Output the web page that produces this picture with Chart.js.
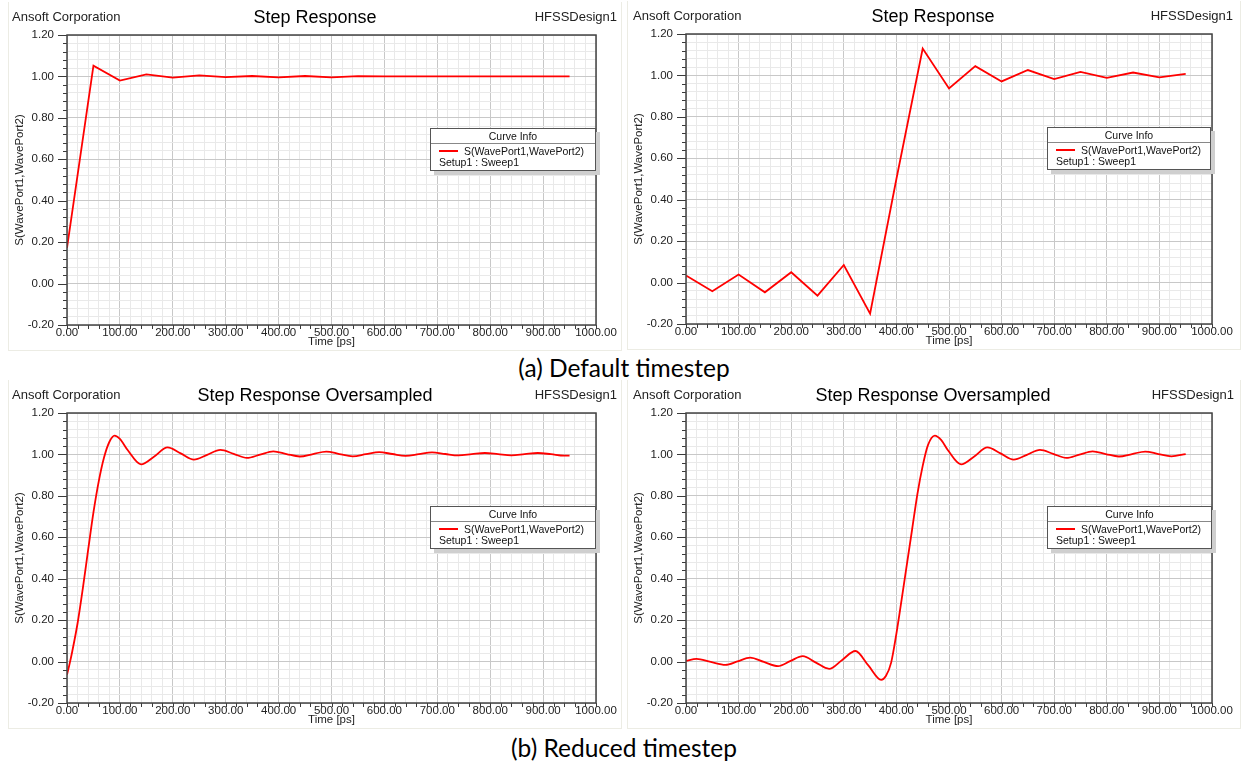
<!DOCTYPE html>
<html>
<head>
<meta charset="utf-8">
<title>Step Response</title>
<script src="https://cdn.jsdelivr.net/npm/chart.js@4.4.1/dist/chart.umd.min.js"></script>
<style>
  body { margin: 0; background: #fff; font-family: 'Liberation Sans', Arial, sans-serif; }
  #page { position: relative; width: 1244px; height: 761px; overflow: hidden; background: #fff; }
  .panel { position: absolute; width: 620px; height: 352px; }
  .panel canvas { position: absolute; left: 0; top: 0; }
  .frame { position: absolute; left: 8px; top: 2px; width: 612px; height: 348px;
           border: 1px solid #ecece4; border-top: none; }
  .corner { position: absolute; top: 9px; font-size: 13px; line-height: 15px; color: #222; white-space: nowrap; }
  .ttl { position: absolute; top: 7px; width: 400px; margin-left: -200px; text-align: center;
         font-size: 18px; line-height: 20px; color: #000; white-space: nowrap; }
  .legend { position: absolute; top: 128px; height: 41px; background: #fff; border: 1px solid #555;
            box-shadow: 4px 4px 0 #cfcfcf; font-size: 10.5px; color: #111; }
  .legend .head { height: 14px; line-height: 14px; text-align: center; border-bottom: 1px solid #888; }
  .legend .row { position: absolute; left: 8px; white-space: nowrap; line-height: 12px; }
  .legend .row1 { top: 16px; }
  .legend .row2 { top: 27px; }
  .legend .swatch { display: inline-block; width: 19px; height: 2px; background: #ff0000;
                    vertical-align: middle; margin-right: 6px; position: relative; top: -1px; }
  .caption { position: absolute; left: 2px; width: 1244px; text-align: center; font-family: Lato, 'Open Sans', sans-serif;
             font-size: 24.5px; line-height: 28px; color: #000; }
</style>
</head>
<body>
<div id="page">
  <div class="caption" style="top:354px">(a) Default timestep</div>
  <div class="caption" style="top:734px">(b) Reduced timestep</div>
</div>
<script>
// Default timestep (50 ps samples)
const defaultTime = [0, 50, 100, 150, 200, 250, 300, 350, 400, 450, 500, 550, 600, 650, 700, 750, 800, 850, 900, 950];
const defaultStepA = [0.172, 1.052, 0.980, 1.010, 0.994, 1.005, 0.997, 1.002, 0.995, 1.002, 0.995, 1.001, 1.000, 1.000, 1.000, 1.000, 1.000, 1.000, 1.000, 1.000];
const defaultStepB = [0.034, -0.042, 0.039, -0.047, 0.050, -0.063, 0.085, -0.150, 0.500, 1.130, 0.937, 1.045, 0.971, 1.026, 0.982, 1.017, 0.988, 1.014, 0.991, 1.008];

// Reduced timestep (oversampled)
const overTimeA = [0, 5, 10, 20, 30, 40, 50, 60, 70, 80, 90, 100, 115, 140, 165, 190, 215, 240, 265, 290, 315, 340, 365, 390,
  415, 440, 465, 490, 515, 540, 565, 590, 615, 640, 665, 690, 715, 740, 765, 790, 815, 840, 865, 890, 915, 940, 950];
const overStepA = [-0.064, -0.010, 0.050, 0.185, 0.355, 0.540, 0.720, 0.870, 0.985, 1.060, 1.091, 1.075, 1.020, 0.952, 0.990, 1.034, 1.005, 0.975, 0.998, 1.022, 1.003, 0.983, 0.999, 1.015,
  1.002, 0.990, 1.002, 1.014, 1.002, 0.991, 1.001, 1.011, 1.002, 0.993, 1.001, 1.010, 1.002, 0.995, 1.001, 1.007, 1.001, 0.995, 1.001, 1.007, 1.001, 0.994, 0.994];

const overTimeB = [0, 20, 47, 75, 98, 122, 148, 175, 198, 222, 247, 272, 297, 322, 347, 371, 380, 390, 400, 410, 420, 430, 440, 450, 460, 473, 485,
  498, 523, 548, 573, 598, 623, 648, 673, 698, 723, 748, 773, 798, 823, 848, 873, 898, 923, 950];
const overStepB = [0.003, 0.013, -0.002, -0.016, 0.001, 0.019, -0.002, -0.022, 0.002, 0.026, -0.005, -0.035, 0.008, 0.051, -0.020, -0.088, -0.070, -0.005, 0.135, 0.300, 0.470, 0.640, 0.810, 0.945, 1.045, 1.091, 1.070,
  1.020, 0.952, 0.990, 1.034, 1.005, 0.975, 0.998, 1.022, 1.003, 0.983, 0.999, 1.015, 1.002, 0.990, 1.002, 1.014, 1.002, 0.991, 1.002];

// tick labels
const xMajorTicks = [0, 100, 200, 300, 400, 500, 600, 700, 800, 900, 1000];
const yMajorTicks = [-0.2, 0, 0.2, 0.4, 0.6, 0.8, 1.0, 1.2];

const panels = [
  { left: 0,   top: 0,   rightPad: 24, cornerLeft: 12, hfssRight: 3, titleX: 315, legendLeft: 430, legendW: 164,
    title: 'Step Response', time: defaultTime, values: defaultStepA, smooth: false },
  { left: 619, top: -1,  rightPad: 27, cornerLeft: 14, hfssRight: 6, titleX: 314, legendLeft: 428, legendW: 162,
    title: 'Step Response', time: defaultTime, values: defaultStepB, smooth: false },
  { left: 0,   top: 378, rightPad: 24, cornerLeft: 12, hfssRight: 3, titleX: 315, legendLeft: 430, legendW: 164,
    title: 'Step Response Oversampled', time: overTimeA, values: overStepA, smooth: true },
  { left: 619, top: 378, rightPad: 27, cornerLeft: 14, hfssRight: 5, titleX: 314, legendLeft: 428, legendW: 163,
    title: 'Step Response Oversampled', time: overTimeB, values: overStepB, smooth: true }
];

const axisFont = { family: "'Liberation Sans', Arial, sans-serif", size: 11.5 };

function isMajor(v, list) {
  return list.some(m => Math.abs(m - v) < 1e-6);
}

// plot frame + outside tick marks
const frameAndTicks = {
  id: 'frameAndTicks',
  afterDraw(chart) {
    const { ctx, chartArea: a, scales: { x, y } } = chart;
    ctx.save();
    ctx.strokeStyle = '#3a3a3a';
    ctx.lineWidth = 1;
    ctx.beginPath();
    y.ticks.forEach(t => {
      const py = Math.round(y.getPixelForValue(t.value)) + 0.5;
      const len = isMajor(t.value, yMajorTicks) ? 9 : 4;
      ctx.moveTo(a.left - len, py);
      ctx.lineTo(a.left, py);
    });
    x.ticks.forEach(t => {
      const px = Math.round(x.getPixelForValue(t.value)) + 0.5;
      ctx.moveTo(px, a.bottom);
      ctx.lineTo(px, a.bottom + 4);
    });
    ctx.stroke();
    ctx.strokeStyle = '#444';
    ctx.lineWidth = 1.5;
    ctx.strokeRect(a.left, a.top, a.right - a.left, a.bottom - a.top);
    ctx.restore();
  }
};

const page = document.getElementById('page');

panels.forEach((p, i) => {
  const div = document.createElement('div');
  div.className = 'panel';
  div.style.left = p.left + 'px';
  div.style.top = p.top + 'px';
  div.innerHTML =
    '<div class="frame"></div>' +
    '<canvas id="c' + i + '" width="620" height="352"></canvas>' +
    '<div class="corner" style="left:' + p.cornerLeft + 'px">Ansoft Corporation</div>' +
    '<div class="corner" style="right:' + p.hfssRight + 'px">HFSSDesign1</div>' +
    '<div class="ttl" style="left:' + p.titleX + 'px">' + p.title + '</div>' +
    '<div class="legend" style="left:' + p.legendLeft + 'px;width:' + p.legendW + 'px">' +
      '<div class="head">Curve Info</div>' +
      '<div class="row row1"><span class="swatch"></span>S(WavePort1,WavePort2)</div>' +
      '<div class="row row2">Setup1 : Sweep1</div>' +
    '</div>';
  page.appendChild(div);

  const ctx = document.getElementById('c' + i).getContext('2d');
  new Chart(ctx, {
    type: 'line',
    data: {
      datasets: [{
        label: 'S(WavePort1,WavePort2)',
        data: p.time.map((t, k) => ({ x: t, y: p.values[k] })),
        borderColor: '#ff0000',
        borderWidth: 1.8,
        pointRadius: 0,
        fill: false,
        tension: 0,
        cubicInterpolationMode: p.smooth ? 'monotone' : 'default'
      }]
    },
    options: {
      responsive: false,
      animation: false,
      devicePixelRatio: 1,
      layout: { padding: { left: 0, right: p.rightPad, top: 35, bottom: 0 } },
      plugins: { legend: { display: false }, tooltip: { enabled: false }, title: { display: false } },
      scales: {
        x: {
          type: 'linear', min: 0, max: 1000,
          afterFit(s) { s.height = 27; },
          border: { display: false },
          grid: {
            drawTicks: false,
            color: c => (c.tick && isMajor(c.tick.value, xMajorTicks)) ? '#c8c8c8' : '#e9e9e9'
          },
          ticks: {
            stepSize: 20, maxTicksLimit: 1000, autoSkip: false, maxRotation: 0, minRotation: 0,
            padding: 1, color: '#222', font: axisFont,
            callback: v => isMajor(v, xMajorTicks) ? v.toFixed(2) : ''
          },
          title: { display: true, text: 'Time [ps]', color: '#222', font: axisFont, padding: { top: 0, bottom: 3 } }
        },
        y: {
          min: -0.2, max: 1.2,
          afterFit(s) { s.width = 67; },
          border: { display: false },
          grid: {
            drawTicks: false,
            color: c => (c.tick && isMajor(c.tick.value, yMajorTicks)) ? '#c8c8c8' : '#e9e9e9'
          },
          ticks: {
            stepSize: 0.04, maxTicksLimit: 1000, autoSkip: false,
            padding: 13, color: '#222', font: axisFont,
            callback: v => isMajor(v, yMajorTicks) ? (Math.abs(v) < 1e-9 ? 0 : v).toFixed(2) : ''
          },
          title: { display: true, text: 'S(WavePort1,WavePort2)', color: '#222', font: axisFont, padding: { top: 13, bottom: 0 } }
        }
      }
    },
    plugins: [frameAndTicks]
  });
});
</script>
</body>
</html>
